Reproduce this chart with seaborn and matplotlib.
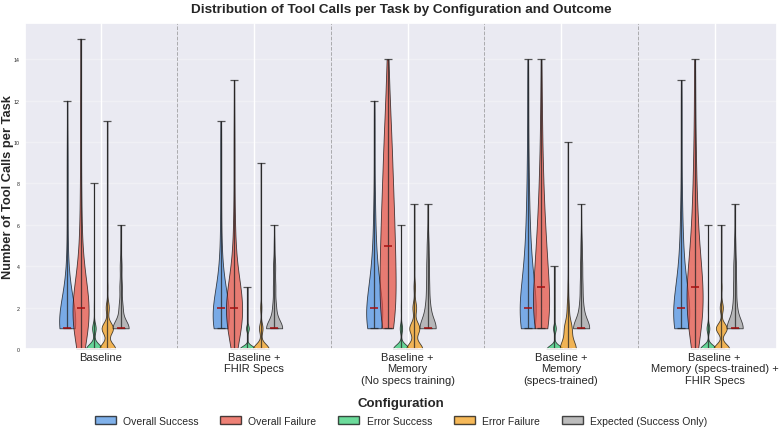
import numpy as np
import matplotlib as mpl
import matplotlib.pyplot as plt
import seaborn as sns
from matplotlib.patches import Patch

mpl.use("Agg")

# configurations (x axis)
configs = [
    "Baseline",
    "Baseline +\nFHIR Specs",
    "Baseline +\nMemory\n(No specs training)",
    "Baseline +\nMemory\n(specs-trained)",
    "Baseline +\nMemory (specs-trained) +\nFHIR Specs",
]
outcomes = [
    "Overall Success",
    "Overall Failure",
    "Error Success",
    "Error Failure",
    "Expected (Success Only)",
]
colors = ["#4A90E2", "#E74C3C", "#2ECC71", "#F39C12", "#A0A0A0"]

# number of tasks with k tool calls (index k = 0, 1, 2, ...), one row per configuration
overall_success = [
    [0, 32, 14, 5, 2, 1, 1, 1, 1, 1, 1, 0, 1],
    [0, 22, 20, 8, 3, 2, 1, 1, 1, 1, 1, 1],
    [0, 25, 22, 13, 7, 4, 3, 2, 1, 1, 1, 1, 1],
    [0, 22, 20, 12, 8, 5, 4, 3, 2, 2, 1, 1, 1, 1, 1],
    [0, 25, 22, 12, 6, 4, 3, 2, 1, 1, 1, 1, 1, 1],
]
overall_failure = [
    [4, 20, 24, 12, 5, 3, 2, 2, 1, 1, 1, 1, 1, 1, 0, 1],
    [3, 18, 22, 14, 5, 3, 2, 1, 1, 1, 1, 1, 0, 1],
    [0, 15, 16, 16, 15, 14, 13, 12, 10, 9, 8, 6, 4, 3, 2],
    [0, 17, 16, 14, 11, 9, 7, 5, 4, 3, 2, 2, 1, 1, 1],
    [3, 12, 15, 14, 10, 7, 5, 4, 3, 2, 2, 1, 1, 1, 1],
]
error_success = [
    [200, 45, 3, 1, 1, 0, 0, 0, 1],
    [200, 35, 3, 1],
    [200, 30, 3, 1, 1, 0, 1],
    [200, 35, 4, 1, 1],
    [200, 35, 3, 1, 0, 0, 1],
]
error_failure = [
    [280, 200, 55, 10, 3, 1, 1, 1, 0, 0, 0, 1],
    [400, 90, 30, 8, 3, 1, 1, 0, 0, 1],
    [280, 175, 65, 25, 8, 3, 1, 1],
    [120, 55, 15, 5, 2, 1, 1, 0, 0, 0, 1],
    [280, 190, 55, 12, 3, 1, 1],
]
expected_success = [
    [0, 150, 35, 22, 16, 6, 2],
    [0, 140, 30, 20, 18, 6, 2],
    [0, 130, 35, 22, 20, 14, 4, 1],
    [0, 130, 30, 20, 16, 10, 3, 1],
    [0, 130, 30, 22, 20, 10, 3, 1],
]
series = [overall_success, overall_failure, error_success, error_failure, expected_success]


def expand(counts):
    return np.repeat(np.arange(len(counts)), counts)


sns.set_theme(style="darkgrid")
plt.rcParams["font.family"] = ["Liberation Sans", "DejaVu Sans"]

fig, ax = plt.subplots(figsize=(7.8, 4.31), dpi=100)
fig.subplots_adjust(left=0.032, right=0.996, top=0.944, bottom=0.188)

step = 0.087
x = np.arange(len(configs))
for j, (rows, color) in enumerate(zip(series, colors)):
    pos = x + (j - 2.5) * step
    parts = ax.violinplot(
        [expand(r) for r in rows],
        positions=pos,
        widths=0.105,
        showmedians=True,
        showextrema=True,
    )
    for body in parts["bodies"]:
        body.set_facecolor(color)
        body.set_edgecolor("black")
        body.set_linewidth(0.6)
        body.set_alpha(0.7)
    for key in ["cbars", "cmins", "cmaxes"]:
        parts[key].set_color("#222222")
        parts[key].set_linewidth(0.9)
        parts[key].set_alpha(0.75)
    parts["cmedians"].set_color("#a50f0f")
    parts["cmedians"].set_linewidth(1.1)

# separators between configurations
for i in range(len(configs) - 1):
    ax.axvline(i + 0.5, color="gray", linestyle="--", linewidth=0.7, alpha=0.6)

ax.set_ylim(0, 15.75)
ax.set_yticks(range(0, 15, 2))
ax.set_xticks(x)
ax.set_xticklabels(configs, fontsize=8)
ax.tick_params(axis="y", labelsize=3.8, pad=4, length=0)
ax.tick_params(axis="x", pad=2, length=0)
ax.grid(axis="y", alpha=0.3)

ax.set_xlabel("Configuration", fontsize=9.5, weight="bold", labelpad=9)
ax.set_ylabel("Number of Tool Calls per Task", fontsize=9.3, weight="bold")
ax.yaxis.set_label_coords(-0.0146, 0.5)
ax.set_title(
    "Distribution of Tool Calls per Task by Configuration and Outcome",
    fontsize=9.7,
    weight="bold",
    pad=8,
)

handles = [
    Patch(facecolor=c, edgecolor="black", alpha=0.7, label=l)
    for c, l in zip(colors, outcomes)
]
fig.legend(
    handles=handles,
    loc="center",
    bbox_to_anchor=(0.514, 0.022),
    ncol=5,
    frameon=False,
    fontsize=7.5,
    handlelength=2.0,
    handleheight=0.75,
    handletextpad=0.7,
    columnspacing=2.1,
)

plt.savefig("out.png", dpi=100)
